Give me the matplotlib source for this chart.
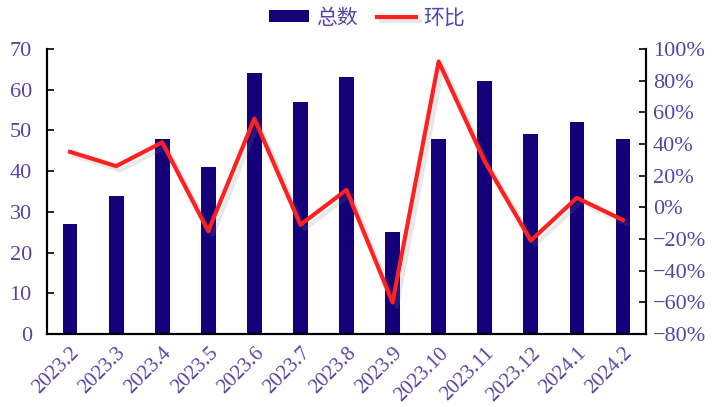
import matplotlib.pyplot as plt
import matplotlib.patheffects as pe
import numpy as np

months = ["2023.2", "2023.3", "2023.4", "2023.5", "2023.6", "2023.7", "2023.8",
          "2023.9", "2023.10", "2023.11", "2023.12", "2024.1", "2024.2"]
totals = [27, 34, 48, 41, 64, 57, 63, 25, 48, 62, 49, 52, 48]
mom_pct = [35, 26, 41, -15, 56, -11, 11, -60, 92, 29, -21, 6, -8]

left_ticks = [0, 10, 20, 30, 40, 50, 60, 70]
right_ticks = [-80, -60, -40, -20, 0, 20, 40, 60, 80, 100]

BAR_COLOR = "#140078"
LINE_COLOR = "#ff2020"
TEXT_COLOR = "#5346a6"

plt.rcParams["font.family"] = ["Liberation Serif", "Noto Sans CJK SC"]

fig = plt.figure(figsize=(7.13, 4.07), dpi=100)
ax = fig.add_axes([0.066, 0.179, 0.840, 0.701])
ax2 = ax.twinx()

x = np.arange(len(months))
bars = ax.bar(x, totals, width=0.32, color=BAR_COLOR, label="总数", zorder=2)
line, = ax2.plot(x, mom_pct, color=LINE_COLOR, lw=3, label="环比", zorder=3,
                 path_effects=[pe.SimpleLineShadow(offset=(3, -3), alpha=0.18, shadow_color="gray"),
                               pe.Normal()])

ax.set_xlim(-0.5, len(months) - 0.5)
ax.set_ylim(0, 70)
ax.set_yticks(left_ticks)
ax2.set_ylim(-80, 100)
ax2.set_yticks(right_ticks)
ax2.set_yticklabels([f"{v}%".replace("-", "\u2212") for v in right_ticks])

ax.set_xticks(x)
ax.set_xticklabels(months, rotation=45, ha="right", rotation_mode="anchor",
                   fontsize=15, color=TEXT_COLOR)
ax.tick_params(axis="x", length=0, pad=7)
ax.tick_params(axis="y", direction="in", length=5, width=1.2, labelsize=16,
               labelcolor=TEXT_COLOR, pad=11)
ax2.tick_params(axis="y", direction="in", length=5, width=1.2, labelsize=16,
                labelcolor=TEXT_COLOR, pad=5)

for a in (ax, ax2):
    a.spines["top"].set_visible(False)
    for s in ("left", "right", "bottom"):
        a.spines[s].set_linewidth(1.5)
        a.spines[s].set_color("black")

fig.legend([bars, line], ["总数", "环比"], loc="upper center",
           bbox_to_anchor=(0.515, 1.03), ncol=2, frameon=False,
           labelcolor=TEXT_COLOR, handlelength=1.9, handleheight=0.5,
           columnspacing=0.9, handletextpad=0.35,
           prop={"family": ["Noto Sans CJK SC"], "size": 15})

fig.savefig("out.png", dpi=100)
